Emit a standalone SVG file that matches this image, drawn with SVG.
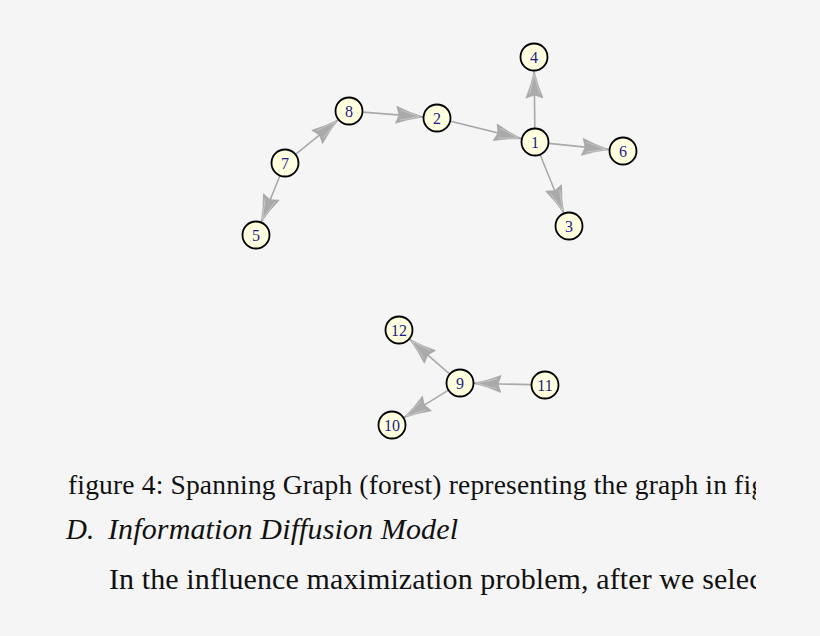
<svg xmlns="http://www.w3.org/2000/svg" width="820" height="636" viewBox="0 0 820 636">
<style>
.bg{fill:#f5f5f5}
.edge{stroke:#a9a9a9;stroke-width:1.6;fill:none;marker-end:url(#arr)}
.node circle{fill:#ffffe0;stroke:#000;stroke-width:1.8}
.node text{font-family:"Liberation Serif","Times New Roman",serif;font-size:16px;fill:#1c1c8a;text-anchor:middle}
.doc{font-family:"Liberation Serif","Times New Roman",serif;fill:#111}
</style>
<defs>
<marker id="arr" markerUnits="userSpaceOnUse" markerWidth="32" markerHeight="22" viewBox="-29 -11 32 22" refX="0" refY="0" orient="auto">
<path d="M0,0 Q-14,-3 -27,-8.5 L-24,0 L-27,8.5 Q-14,3 0,0 Z" fill="#aaaaaa" stroke="#a0a0a0" stroke-width="0.6"/>
<path d="M-3,0 L-23,-5 M-3,0 L-23,5" stroke="#d0d0d0" stroke-width="0.7"/>
</marker>
<clipPath id="clip"><rect x="0" y="450" width="756" height="186"/></clipPath>
</defs>
<rect class="bg" x="0" y="0" width="820" height="636"/>
<g id="edges">
<line class="edge" x1="362.96" y1="112.11" x2="423.04" y2="116.89"/>
<line class="edge" x1="450.6" y1="121.33" x2="521.4" y2="138.67"/>
<line class="edge" x1="534.83" y1="128" x2="534.17" y2="71"/>
<line class="edge" x1="548.93" y1="143.42" x2="609.07" y2="149.58"/>
<line class="edge" x1="540.25" y1="154.98" x2="563.75" y2="213.02"/>
<line class="edge" x1="295.87" y1="154.17" x2="338.13" y2="119.83"/>
<line class="edge" x1="279.77" y1="175.99" x2="261.23" y2="222.01"/>
<line class="edge" x1="449.43" y1="373.82" x2="409.57" y2="339.18"/>
<line class="edge" x1="448.09" y1="390.36" x2="403.91" y2="417.64"/>
<line class="edge" x1="531" y1="384.67" x2="474" y2="383.33"/>
</g>
<g id="node1" class="node"><circle cx="535" cy="142" r="13.5"/><text x="535" y="147.5">1</text></g>
<g id="node2" class="node"><circle cx="437" cy="118" r="13.5"/><text x="437" y="123.5">2</text></g>
<g id="node3" class="node"><circle cx="569" cy="226" r="13.5"/><text x="569" y="231.5">3</text></g>
<g id="node4" class="node"><circle cx="534" cy="57" r="13.5"/><text x="534" y="62.5">4</text></g>
<g id="node5" class="node"><circle cx="256" cy="235" r="13.5"/><text x="256" y="240.5">5</text></g>
<g id="node6" class="node"><circle cx="623" cy="151" r="13.5"/><text x="623" y="156.5">6</text></g>
<g id="node7" class="node"><circle cx="285" cy="163" r="13.5"/><text x="285" y="168.5">7</text></g>
<g id="node8" class="node"><circle cx="349" cy="111" r="13.5"/><text x="349" y="116.5">8</text></g>
<g id="node9" class="node"><circle cx="460" cy="383" r="13.5"/><text x="460" y="388.5">9</text></g>
<g id="node10" class="node"><circle cx="392" cy="425" r="13.5"/><text x="392" y="430.5">10</text></g>
<g id="node11" class="node"><circle cx="545" cy="385" r="13.5"/><text x="545" y="390.5">11</text></g>
<g id="node12" class="node"><circle cx="399" cy="330" r="13.5"/><text x="399" y="335.5">12</text></g>
<g id="text" clip-path="url(#clip)">
<text class="doc" x="68" y="494" font-size="27.5" textLength="697" lengthAdjust="spacing">figure 4: Spanning Graph (forest) representing the graph in fig</text>
<text class="doc" x="66" y="539" font-size="29" font-style="italic">D.</text>
<text class="doc" x="108" y="539" font-size="30" font-style="italic" textLength="350" lengthAdjust="spacing">Information Diffusion Model</text>
<text class="doc" x="109" y="589" font-size="30" textLength="662" lengthAdjust="spacing">In the influence maximization problem, after we select</text>
</g>
</svg>
